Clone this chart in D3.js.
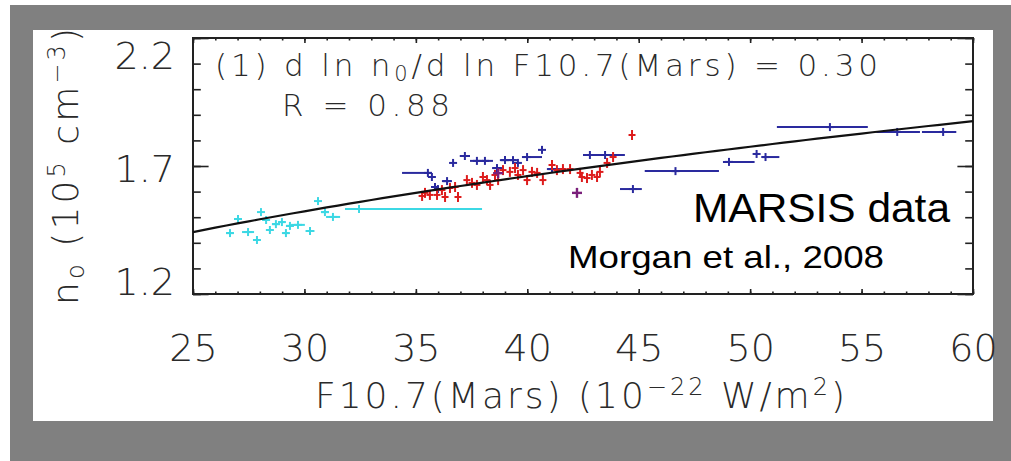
<!DOCTYPE html>
<html><head><meta charset="utf-8">
<script src="https://cdn.jsdelivr.net/npm/d3@7"></script>
<style>
html,body{margin:0;padding:0;background:#fff;}
svg{display:block;}
.hf{font-family:"DejaVu Sans","Liberation Sans",sans-serif;font-weight:200;fill:#2a2a2a;}
.ar{font-family:"Liberation Sans",Arial,sans-serif;fill:#000;}
</style></head>
<body>
<script>
// ---------- data ----------
const xTickValues = [25, 30, 35, 40, 45, 50, 55, 60];
const yTickValues = [1.2, 1.7, 2.2];
const yTickLabels = ["1.2", "1.7", "2.2"];

// fit: d ln n0 / d ln F10.7 = 0.30, n0(25) = 1.442
const fitSlope = 0.30;
const fitRefX = 25;
const fitRefY = 1.442;

// cyan series: x, y, x error low, x error high
const cyanX  = [26.66, 27.02, 27.47, 27.87, 28.05, 28.28, 28.45, 28.72, 28.99, 29.17, 29.35, 29.71, 30.25, 30.61, 30.92, 31.28, 32.45];
const cyanY  = [1.438, 1.493, 1.442, 1.411, 1.520, 1.489, 1.450, 1.473, 1.481, 1.438, 1.466, 1.470, 1.446, 1.563, 1.520, 1.501, 1.532];
const cyanLo = [26.50, 27.00, 27.20, 27.80, 28.03, 28.18, 28.35, 28.55, 28.85, 29.05, 29.18, 29.40, 30.05, 30.58, 30.75, 30.97, 31.82];
const cyanHi = [26.82, 27.04, 27.74, 27.94, 28.07, 28.38, 28.55, 28.90, 29.13, 29.29, 29.52, 30.02, 30.45, 30.64, 31.10, 31.60, 37.97];

// red series
const redX = [35.28, 35.41, 35.63, 35.95, 36.17, 36.31, 36.53, 36.76, 36.89, 37.29, 37.52, 37.74, 38.01, 38.19, 38.33, 38.55, 38.69, 38.91, 39.22, 39.45, 39.58, 39.81, 39.99, 40.21, 40.44, 40.70, 41.11, 41.33, 41.60, 41.92, 42.37, 42.45, 42.68, 42.90, 43.13, 43.26, 43.58, 43.85, 44.70];
const redY = [1.583, 1.595, 1.587, 1.587, 1.606, 1.579, 1.614, 1.618, 1.579, 1.645, 1.634, 1.626, 1.657, 1.645, 1.626, 1.665, 1.645, 1.684, 1.677, 1.692, 1.665, 1.684, 1.645, 1.677, 1.673, 1.645, 1.704, 1.684, 1.688, 1.688, 1.673, 1.657, 1.653, 1.665, 1.657, 1.677, 1.712, 1.735, 1.821];

// blue series
const blueX  = [35.54, 35.72, 35.86, 35.99, 36.40, 36.67, 37.20, 37.74, 38.10, 38.64, 39.00, 39.36, 39.58, 39.99, 40.66, 41.11, 42.81, 43.49, 44.74, 46.65, 49.05, 50.29, 50.69, 53.58, 56.60, 58.66];
const blueY  = [1.673, 1.657, 1.618, 1.610, 1.641, 1.712, 1.739, 1.720, 1.720, 1.692, 1.723, 1.723, 1.712, 1.735, 1.763, 1.688, 1.743, 1.743, 1.610, 1.680, 1.716, 1.747, 1.735, 1.852, 1.833, 1.833];
const blueLo = [34.38, 35.68, 35.72, 35.90, 36.17, 36.64, 36.97, 37.43, 37.97, 38.42, 38.77, 39.22, 39.50, 39.76, 40.62, 40.88, 42.50, 43.18, 44.16, 45.27, 48.78, 50.20, 50.51, 51.20, 55.66, 57.71];
const blueHi = [35.72, 35.76, 36.00, 36.08, 36.62, 36.70, 37.43, 38.01, 38.46, 38.87, 39.22, 39.49, 39.66, 40.66, 40.70, 41.69, 43.27, 44.38, 45.14, 48.60, 50.20, 50.38, 51.31, 55.28, 57.62, 59.25];

// purple points
const purpleX = [42.23, 38.69];
const purpleY = [1.595, 1.672];

// ---------- layout ----------
const W = 1011, H = 461;
const L = 193, R = 973, T = 38, B = 294;

const svg = d3.select("body").append("svg").attr("width", W).attr("height", H);
svg.append("rect").attr("width", W).attr("height", H).attr("fill", "#fff");
svg.append("rect").attr("x", 10).attr("y", 5).attr("width", W - 10).attr("height", H - 5).attr("fill", "#808080");
svg.append("rect").attr("x", 33).attr("y", 30).attr("width", 960).attr("height", 391).attr("fill", "#fff");

const x = d3.scaleLinear().domain([25, 60]).range([L, R]);
const y = d3.scaleLinear().domain([1.2, 2.2]).range([B, T]);
const yLabel = d3.scaleLinear().domain([1.2, 2.2]).range([281, 55]);

const xMinor = d3.range(25, 60.5, 1);
const yMinor = d3.range(12, 22.5, 1).map(v => v / 10);

function clean(g) { g.select(".domain").remove(); g.selectAll("line").attr("stroke", "#222").attr("stroke-width", 1.6); }

// bottom
svg.append("g").attr("transform", `translate(0,${B})`)
  .call(d3.axisBottom(x).tickValues(xMinor).tickSize(-2.5).tickFormat("")).call(clean);
const gb = svg.append("g").attr("transform", `translate(0,${B})`)
  .call(d3.axisBottom(x).tickValues(xTickValues).tickSize(-5).tickFormat(d3.format("d"))).call(clean);
gb.selectAll("text").attr("class", "hf").attr("fill", null).attr("font-size", 38)
  .attr("dy", null).attr("y", 361 - B);
// top
svg.append("g").attr("transform", `translate(0,${T})`)
  .call(d3.axisTop(x).tickValues(xMinor).tickSize(-2.5).tickFormat("")).call(clean);
svg.append("g").attr("transform", `translate(0,${T})`)
  .call(d3.axisTop(x).tickValues(xTickValues).tickSize(-5).tickFormat("")).call(clean);
// left
svg.append("g").attr("transform", `translate(${L},0)`)
  .call(d3.axisLeft(y).tickValues(yMinor).tickSize(-7.8).tickFormat("")).call(clean);
const gl = svg.append("g").attr("transform", `translate(${L},0)`)
  .call(d3.axisLeft(y).tickValues(yTickValues).tickSize(-15.6).tickFormat((d, i) => yTickLabels[i])).call(clean);
gl.selectAll("text").attr("class", "hf").attr("fill", null).attr("font-size", 38)
  .attr("x", -18).attr("dy", null).attr("dominant-baseline", "central")
  .attr("y", d => yLabel(d) - y(d));
// right
svg.append("g").attr("transform", `translate(${R},0)`)
  .call(d3.axisRight(y).tickValues(yMinor).tickSize(-7.8).tickFormat("")).call(clean);
svg.append("g").attr("transform", `translate(${R},0)`)
  .call(d3.axisRight(y).tickValues(yTickValues).tickSize(-15.6).tickFormat("")).call(clean);

// frame
svg.append("rect").attr("x", L).attr("y", T).attr("width", R - L).attr("height", B - T)
  .attr("fill", "none").attr("stroke", "#222").attr("stroke-width", 2);

// ---------- data marks ----------
const plot = svg.append("g");
function errSeries(xs, ys, lo, hi, color, sw) {
  const g = plot.append("g").attr("stroke", color).attr("stroke-width", sw).attr("fill", "none");
  xs.forEach((xv, i) => {
    g.append("line").attr("x1", x(lo[i])).attr("x2", x(hi[i])).attr("y1", y(ys[i])).attr("y2", y(ys[i]));
    g.append("line").attr("x1", x(xv) - 4).attr("x2", x(xv) + 4).attr("y1", y(ys[i])).attr("y2", y(ys[i]));
    g.append("line").attr("x1", x(xv)).attr("x2", x(xv)).attr("y1", y(ys[i]) - 4).attr("y2", y(ys[i]) + 4);
  });
}
function crossSeries(xs, ys, color, sw, hw, hh) {
  const g = plot.append("g").attr("stroke", color).attr("stroke-width", sw).attr("fill", "none");
  xs.forEach((xv, i) => {
    g.append("line").attr("x1", x(xv) - hw).attr("x2", x(xv) + hw).attr("y1", y(ys[i])).attr("y2", y(ys[i]));
    g.append("line").attr("x1", x(xv)).attr("x2", x(xv)).attr("y1", y(ys[i]) - hh).attr("y2", y(ys[i]) + hh);
  });
}
errSeries(cyanX, cyanY, cyanLo, cyanHi, "#3cd8e4", 2);
errSeries(blueX, blueY, blueLo, blueHi, "#2a2a9e", 2);
crossSeries(redX, redY, "#dd1c1c", 2, 3.5, 5);
crossSeries(purpleX, purpleY, "#7a1f7a", 2.4, 5, 5);
// fit line
const fitXs = d3.range(25, 60.01, 0.5);
plot.append("path")
  .datum(fitXs)
  .attr("fill", "none").attr("stroke", "#111").attr("stroke-width", 2.2)
  .attr("d", d3.line().x(d => x(d)).y(d => y(fitRefY * Math.pow(d / fitRefX, fitSlope))));

// ---------- texts ----------
const t1 = svg.append("text").attr("class", "hf").attr("x", 215).attr("y", 76).attr("font-size", 31)
  .attr("textLength", 663).attr("lengthAdjust", "spacing");
t1.append("tspan").text("(1) d ln n");
t1.append("tspan").attr("dy", 5).attr("font-size", 21).text("0");
t1.append("tspan").attr("dy", -5).text("/d ln F10.7(Mars) = 0.30");

svg.append("text").attr("class", "hf").attr("x", 282).attr("y", 116).attr("font-size", 31)
  .attr("textLength", 168).attr("lengthAdjust", "spacing").text("R = 0.88");

const xt = svg.append("text").attr("class", "hf").attr("x", 315).attr("y", 408).attr("font-size", 36)
  .attr("textLength", 530).attr("lengthAdjust", "spacing");
xt.append("tspan").text("F10.7(Mars) (10");
xt.append("tspan").attr("dy", -13).attr("font-size", 24).text("−22");
xt.append("tspan").attr("dy", 13).text(" W/m");
xt.append("tspan").attr("dy", -13).attr("font-size", 24).text("2");
xt.append("tspan").attr("dy", 13).text(")");

const yt = svg.append("text").attr("class", "hf").attr("transform", "translate(78,305) rotate(-90)")
  .attr("font-size", 36).attr("textLength", 277).attr("lengthAdjust", "spacing");
yt.append("tspan").text("n");
yt.append("tspan").attr("dy", 6).attr("font-size", 24).text("o");
yt.append("tspan").attr("dy", -6).text(" (10");
yt.append("tspan").attr("dy", -13).attr("font-size", 24).text("5");
yt.append("tspan").attr("dy", 13).text(" cm");
yt.append("tspan").attr("dy", -13).attr("font-size", 24).text("−3");
yt.append("tspan").attr("dy", 13).text(")");

svg.append("text").attr("class", "ar").attr("x", 693).attr("y", 222).attr("font-size", 40)
  .attr("textLength", 257).attr("lengthAdjust", "spacingAndGlyphs").text("MARSIS data");
svg.append("text").attr("class", "ar").attr("x", 568).attr("y", 268).attr("font-size", 32)
  .attr("textLength", 316).attr("lengthAdjust", "spacingAndGlyphs").text("Morgan et al., 2008");
</script>
</body></html>
